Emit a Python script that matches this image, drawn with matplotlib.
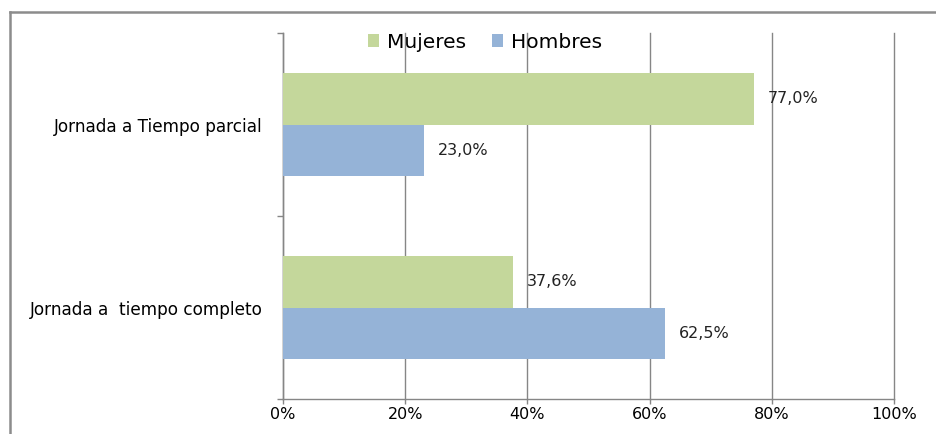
import matplotlib
matplotlib.use('agg')

import numpy as np
import matplotlib.pyplot as plt
from matplotlib.lines import Line2D

# data
categories = ['Jornada a  tiempo completo', 'Jornada a Tiempo parcial']
mujeres = [37.6, 77.0]
hombres = [62.5, 23.0]
labels_mujeres = ['37,6%', '77,0%']
labels_hombres = ['62,5%', '23,0%']
series_names = ['Mujeres', 'Hombres']
x_ticks = [0, 20, 40, 60, 80, 100]
x_ticklabels = ['0%', '20%', '40%', '60%', '80%', '100%']

green = '#C4D79B'
blue = '#95B3D7'
gray = '#868686'

fig = plt.figure(figsize=(9.36, 4.34), dpi=100)
ax = fig.add_axes([0.3024, 0.0806, 0.6528, 0.8433])

y = np.arange(len(categories))
h = 0.284
b1 = ax.barh(y + h / 2, mujeres, height=h, color=green, label=series_names[0], zorder=3)
b2 = ax.barh(y - h / 2, hombres, height=h, color=blue, label=series_names[1], zorder=3)

for bars, labs in ((b1, labels_mujeres), (b2, labels_hombres)):
    for rect, lab in zip(bars, labs):
        ax.annotate(lab, (rect.get_width(), rect.get_y() + rect.get_height() / 2),
                    xytext=(10, 0), textcoords='offset points',
                    ha='left', va='center', fontsize=11.5, color='#222222', zorder=4)

ax.set_xlim(0, 100)
ax.set_ylim(-0.5, 1.5)
ax.set_xticks(x_ticks)
ax.set_xticklabels(x_ticklabels)
ax.set_yticks(y)
ax.set_yticklabels(categories)
ax.set_yticks([-0.5, 0.5, 1.5], minor=True)

ax.tick_params(axis='y', which='major', length=0, pad=14.5, labelsize=12.2)
ax.tick_params(axis='y', which='minor', length=4.5, color=gray, width=1, direction='out')
ax.tick_params(axis='x', which='major', length=3.5, color=gray, width=1, pad=2, labelsize=11.5)

ax.grid(axis='x', color=gray, linewidth=1, zorder=0)
for gl in ax.get_xgridlines():
    gl.set_clip_on(False)
for side in ('top', 'right'):
    ax.spines[side].set_visible(False)
for side in ('left', 'bottom'):
    ax.spines[side].set_color(gray)
    ax.spines[side].set_linewidth(1)

fig.legend(handles=[b1, b2], labels=series_names, loc='center', ncol=2,
           bbox_to_anchor=(0.518, 0.903), frameon=False, fontsize=14.5,
           handlelength=0.55, handleheight=0.55, handletextpad=0.4,
           columnspacing=1.3, borderpad=0)

# outer frame (left and top edges only, as in the source)
fig.add_artist(Line2D([0.0107, 0.0107], [0.0, 0.9724], transform=fig.transFigure,
                      color='#8c8c8c', linewidth=1.8))
fig.add_artist(Line2D([0.0107, 1.0], [0.9724, 0.9724], transform=fig.transFigure,
                      color='#8c8c8c', linewidth=1.8))

plt.savefig('out.png', dpi=100)
